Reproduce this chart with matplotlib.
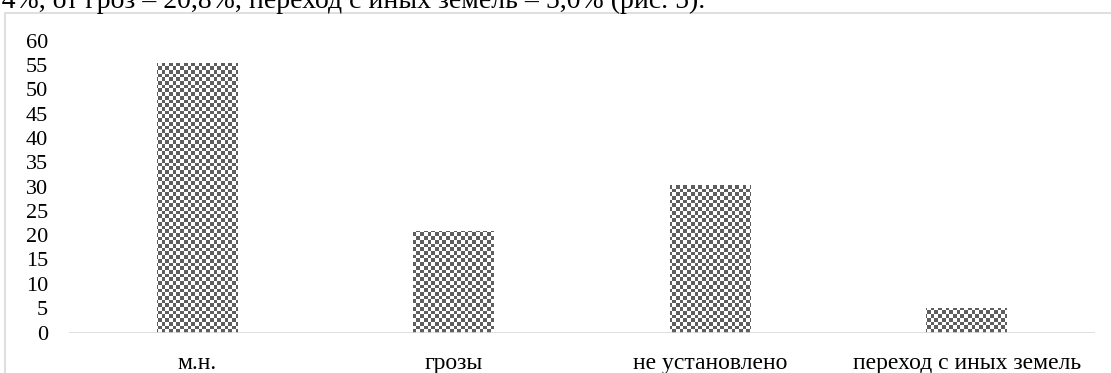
import numpy as np
import matplotlib
matplotlib.use("Agg")
import matplotlib.pyplot as plt
from matplotlib.patches import Rectangle
from matplotlib.colors import ListedColormap

categories = ["м.н.", "грозы", "не установлено", "переход с иных земель"]
values = [55.4, 20.8, 30.4, 5.0]
yticks = [0, 5, 10, 15, 20, 25, 30, 35, 40, 45, 50, 55, 60]

W, H = 1111, 373
DPI = 100
plt.rcParams["font.family"] = ["Liberation Serif", "DejaVu Serif"]

fig = plt.figure(figsize=(W / DPI, H / DPI), dpi=DPI)
fig.patch.set_facecolor("white")

# Running text of the page above the figure
fig.text(705 / W, 1 - 7.5 / H,
         ";4%, от гроз – 20,8%, переход с иных земель – 5,0% (рис. 5).",
         ha="right", va="baseline", fontsize=20, color="black")

# Chart frame
frame = Rectangle((5 / W, -0.1), 1.2, 1 - 13 / H + 0.1, transform=fig.transFigure,
                  fill=False, edgecolor="#d9d9d9", linewidth=1.2)
fig.add_artist(frame)

left, right = 69 / W, 1095 / W
bottom, top = 1 - 332.5 / H, 1 - 40.5 / H
ax = fig.add_axes([left, bottom, right - left, top - bottom])
ax.set_facecolor("none")

x = np.arange(len(categories))
bars = ax.bar(x, values, width=0.315, facecolor="none", edgecolor="none")

# Checkerboard fill clipped to each bar
cell = 3.7
nx = int((right - left) * W / cell) + 1
ny = int((top - bottom) * H / cell) + 1
ii, jj = np.indices((ny, nx))
checker = ((ii + jj) % 2).astype(float)
cmap = ListedColormap(["#ffffff", "#5e5e5e"])
ytop = 60 * ny * cell / ((top - bottom) * H)
xright = -0.5 + len(categories) * nx * cell / ((right - left) * W)
for b in bars:
    im = ax.imshow(checker, cmap=cmap, extent=(-0.5, xright, 0, ytop),
                   origin="lower", aspect="auto", interpolation="antialiased", zorder=2)
    im.set_clip_path(b)
ax.set_xlim(-0.5, len(categories) - 0.5)
ax.set_ylim(0, 60)

ax.axhline(0, color="#d9d9d9", linewidth=1.2, zorder=3)
for s in ax.spines.values():
    s.set_visible(False)

ax.set_yticks(yticks)
ax.set_yticklabels([str(v) for v in yticks])
ax.set_xticks(x)
ax.set_xticklabels(categories)
ax.tick_params(axis="y", length=0, pad=15, labelsize=16, colors="black")
ax.tick_params(axis="x", length=0, pad=15, labelsize=17, colors="black")

fig.savefig("out.png", dpi=DPI)
